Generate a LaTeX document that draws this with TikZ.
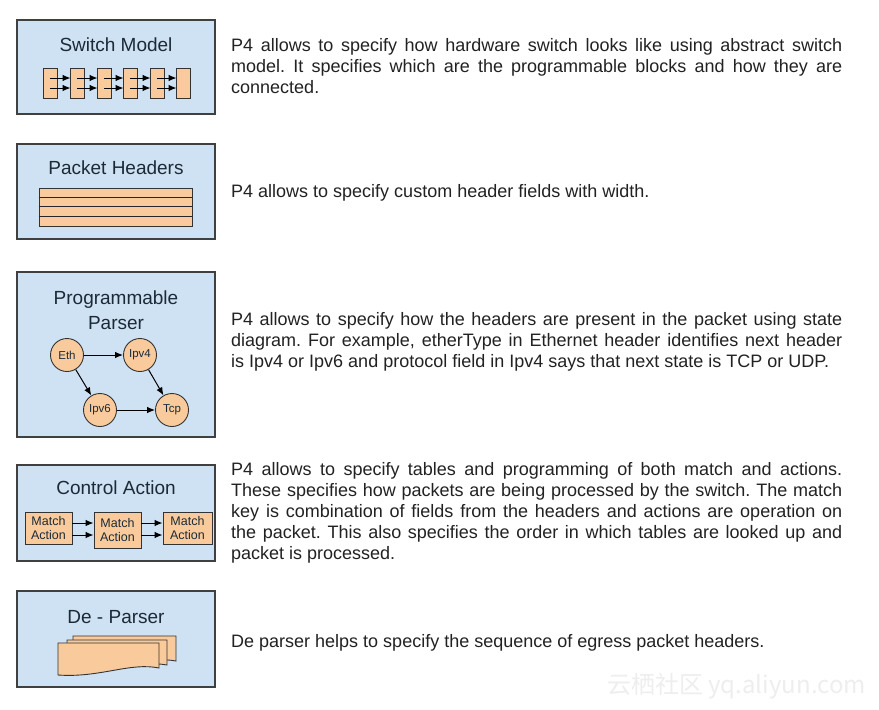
\documentclass[tikz,border=0pt]{standalone}
\usepackage{fontspec}
\setmainfont{Liberation Sans}
\newfontfamily\cjkfont{Noto Sans CJK SC}
\usetikzlibrary{arrows.meta}
\definecolor{panelfill}{HTML}{CFE2F3}
\definecolor{panelline}{HTML}{404040}
\definecolor{orangefill}{HTML}{F9CB9C}
\definecolor{titlecol}{HTML}{1C2A38}
\definecolor{textcol}{HTML}{222222}
\definecolor{wmcol}{HTML}{EEEEEE}
\frenchspacing
\begin{document}
\begin{tikzpicture}[x=1pt,y=-1pt,
  panel/.style={draw=panelline, line width=1.4pt, fill=panelfill, minimum width=198pt, inner sep=0pt},
  ptitle/.style={font=\fontsize{19}{25}\selectfont, text=titlecol, inner sep=0pt},
  blk/.style={draw=black!80, line width=0.9pt, fill=orangefill, inner sep=0pt},
  pagefill/.style={draw=black!80, line width=0.9pt, fill=orangefill},
  arr/.style={-{Latex[length=8pt,width=6.5pt]}, line width=1pt, black},
  state/.style={circle, draw=black!80, line width=0.9pt, fill=orangefill, minimum size=33pt, inner sep=0pt, text=titlecol, font=\fontsize{11.5}{13}\selectfont},
  matext/.style={align=center, text=titlecol, font=\fontsize{12.5}{14.5}\selectfont},
  para/.style={anchor=north west, text width=611pt, align=justify, inner sep=0pt, text=textcol, font=\fontsize{18}{20.8}\selectfont}]

\path[use as bounding box, fill=white] (0,0) rectangle (879,710);

% panels
\node[panel, minimum height=94pt] (p1) at (116,67) {};
\node[panel, minimum height=95pt] (p2) at (116,191.5) {};
\node[panel, minimum height=165pt] (p3) at (116,354.5) {};
\node[panel, minimum height=96pt] (p4) at (116,513) {};
\node[panel, minimum height=96pt] (p5) at (116,639) {};

% titles
\node[ptitle, anchor=base] (t1) at (116,51.8) {Switch Model};
\node[ptitle, anchor=base] (t2) at (116,174.8) {Packet Headers};
\node[ptitle, align=center] (t3) at (116,310.4) {Programmable\\Parser};
\node[ptitle, anchor=base] (t4) at (116,494.8) {Control Action};
\node[ptitle, anchor=base] (t5) at (116,623.8) {De - Parser};

% switch model blocks
\foreach \i/\x in {1/50,2/77,3/104,4/130,5/157,6/183}
  \node[blk, minimum width=14pt, minimum height=30pt] (s\i) at (\x,83) {};
\foreach \i/\j in {1/2,2/3,3/4,4/5,5/6}{
  \draw[arr] ([yshift=5pt]s\i.center) -- ([yshift=5pt,xshift=1pt]s\j.west);
  \draw[arr] ([yshift=-5pt]s\i.center) -- ([yshift=-5pt,xshift=1pt]s\j.west);
}

% packet headers
\node[blk, minimum width=153pt, minimum height=38pt] (hdr) at (115.5,207) {};
\foreach \y in {197,206.5,216.5}
  \draw[line width=0.9pt, black!85] (hdr.west |- 0,\y) -- (hdr.east |- 0,\y);

% parser states
\node[state] (eth) at (67,355) {Eth};
\node[state] (ipv4) at (140,355) {Ipv4};
\node[state] (ipv6) at (100,410) {Ipv6};
\node[state] (tcp) at (172,410) {Tcp};
\draw[arr] (eth) -- (ipv4);
\draw[arr] (eth) -- (ipv6);
\draw[arr] (ipv4) -- (tcp);
\draw[arr] (ipv6) -- (tcp);

% control action
\node[blk, matext, minimum width=47pt, minimum height=32pt] (m1) at (48.5,528) {Match\\Action};
\node[blk, matext, minimum width=47pt, minimum height=36pt] (m2) at (117.5,530) {Match\\Action};
\node[blk, matext, minimum width=49pt, minimum height=32pt] (m3) at (187.5,528) {Match\\Action};
\foreach \y in {523,535}{
  \draw[arr] (m1.east |- 0,\y) -- (m2.west |- 0,\y);
  \draw[arr] (m2.east |- 0,\y) -- (m3.west |- 0,\y);
}

% de-parser pages
\draw[pagefill] (73,636) -- (176,636) -- (176,661) .. controls (150,656) and (120,668) .. (73,665) -- cycle;
\draw[pagefill] (67,640) -- (167,640) -- (167,665) .. controls (140,660) and (110,672) .. (67,670) -- cycle;
\draw[pagefill] (58,643) -- (159,643) -- (159,668) .. controls (130,662) and (100,678) .. (58,675) -- cycle;

% descriptions
\node[para] (d1) at (231,36.9) {\strut P4 allows to specify how hardware switch looks like using abstract switch\linebreak model. It specifies which are the programmable blocks and how they are\linebreak connected.};
\node[para] (d2) at (231,182.4) {\strut P4 allows to specify custom header fields with width.};
\node[para] (d3) at (231,311.1) {\strut P4 allows to specify how the headers are present in the packet using state\linebreak diagram. For example, etherType in Ethernet header identifies next header\linebreak is Ipv4 or Ipv6 and protocol field in Ipv4 says that next state is TCP or UDP.};
\node[para] (d4) at (231,461.1) {\strut P4 allows to specify tables and programming of both match and actions.\linebreak These specifies how packets are being processed by the switch. The match\linebreak key is combination of fields from the headers and actions are operation on\linebreak the packet. This also specifies the order in which tables are looked up and\linebreak packet is processed.};
\node[para] (d5) at (231,632.4) {\strut De parser helps to specify the sequence of egress packet headers.};

% watermark
\node[font=\cjkfont\fontsize{24}{24}\selectfont, text=wmcol, anchor=east, inner sep=0pt] (wm) at (866,686) {云栖社区 yq.aliyun.com};
\end{tikzpicture}
\end{document}
